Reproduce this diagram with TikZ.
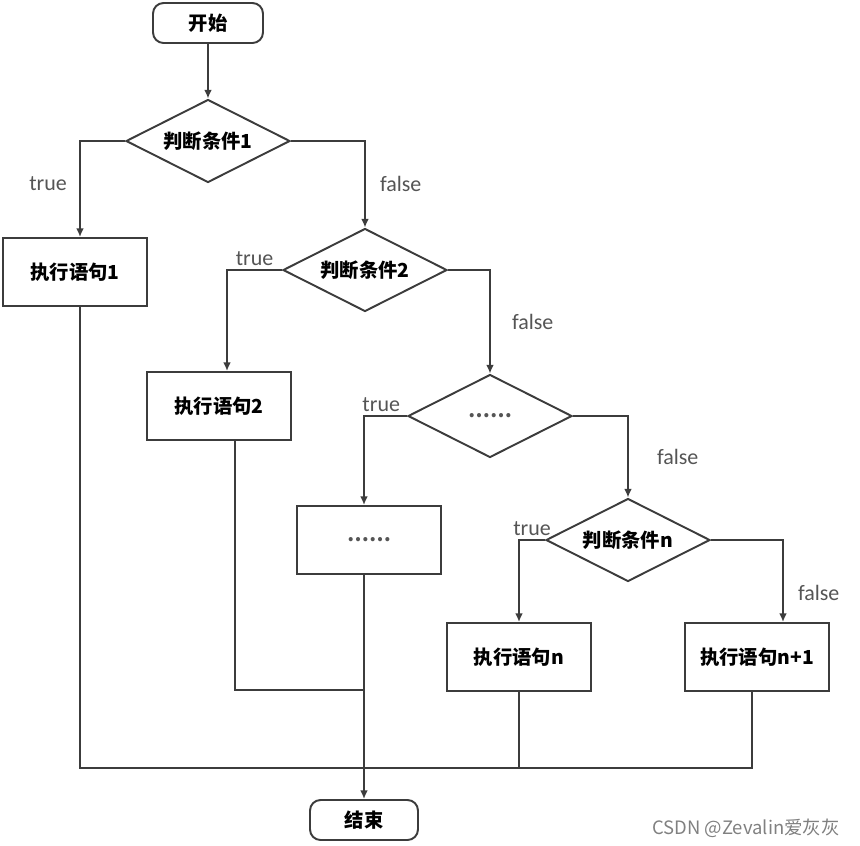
\documentclass[tikz,border=0pt]{standalone}
\usepackage{fontspec}
\usepackage{xcolor}
\usepackage{tikz}
\usetikzlibrary{shapes.geometric,arrows.meta,positioning}
\newfontfamily\cjk{Noto Sans CJK SC}
\newfontfamily\lblfont{Carlito}
\definecolor{linegray}{RGB}{60,60,60}
\definecolor{txtgray}{RGB}{85,85,85}
\tikzset{
  % start / end box
  termbox/.style={rectangle, rounded corners=6pt, align=center,
                  draw=linegray, line width=1.1pt,
                  font=\cjk\fontsize{11}{13}\selectfont\bfseries,
                  minimum width=2.2cm, minimum height=0.8cm, inner sep=2pt},
  % statement box
  actbox/.style={rectangle, align=center,
                 draw=linegray, line width=1.1pt,
                 font=\cjk\fontsize{11}{13}\selectfont\bfseries,
                 minimum width=2.88cm, minimum height=1.36cm, inner sep=2pt},
  % condition diamond
  condbox/.style={diamond, aspect=2, align=center,
                  draw=linegray, line width=1.1pt,
                  font=\cjk\fontsize{11}{13}\selectfont\bfseries,
                  minimum width=3.28cm, minimum height=1.66cm, inner sep=0pt},
  % branch labels
  lbl/.style={font=\lblfont\fontsize{12.5}{14}\selectfont, text=txtgray, inner sep=1pt},
  % connectors
  flow/.style={-{Latex[length=5pt,width=4.5pt]}, draw=linegray, line width=1.1pt},
  mergeline/.style={draw=linegray, line width=1.1pt},
}
\begin{document}
\begin{tikzpicture}[x=0.02cm,y=-0.02cm]
  \useasboundingbox (0,0) rectangle (860,846);

  % -- nodes -------------------------------------------------
  \node[termbox] (start) at (208,23) {开始};
  \node[condbox] (c1) at (208,141) {判断条件1};
  \node[actbox]  (s1) at (75,272) {执行语句1};
  \node[condbox] (c2) at (365,270) {判断条件2};
  \node[actbox]  (s2) at (219,406) {执行语句2};
  \node[condbox] (c3) at (490,416) {\textcolor{txtgray}{……}};
  \node[actbox]  (s3) at (369,540) {\textcolor{txtgray}{……}};
  \node[condbox] (cn) at (628,540) {判断条件n};
  \node[actbox]  (sn) at (519,657) {执行语句n};
  \node[actbox]  (sn1) at (757,657) {执行语句n+1};
  \node[termbox, minimum width=2.16cm] (stop) at (364,820) {结束};

  \coordinate (m2) at (364,690);
  \coordinate (j) at (364,768);

  % -- branches ----------------------------------------------
  \draw[flow] (start) -- (c1);
  \draw[flow] (c1.west) -| node[lbl,pos=0.72,left=6pt] {true}
        ([xshift=0.1cm]s1.north);
  \draw[flow] (c1.east) -| node[lbl,pos=0.75,right=7pt] {false} (c2.north);
  \draw[flow] (c2.west) -| node[lbl,pos=0.25,above=1pt] {true}
        ([xshift=0.16cm]s2.north);
  \draw[flow] (c2.east) -| node[lbl,pos=0.75,right=11pt] {false} (c3.north);
  \draw[flow] (c3.west) -| node[lbl,pos=0.3,above=1pt] {true}
        ([xshift=-0.1cm]s3.north);
  \draw[flow] (c3.east) -| node[lbl,pos=0.75,right=15pt] {false} (cn.north);
  \draw[flow] (cn.west) -| node[lbl,pos=0.25,above=1pt] {true} (sn.north);
  \draw[flow] (cn.east) -| node[lbl,pos=0.82,right=7pt] {false}
        ([xshift=0.52cm]sn1.north);

  % -- merging lines -----------------------------------------
  \draw[mergeline] ([xshift=0.32cm]s2.south) |- (m2);
  \draw[flow] ([xshift=-0.1cm]s3.south) -- (stop.north);
  \draw[mergeline] ([xshift=0.1cm]s1.south) |- (j) -| ([xshift=-0.1cm]sn1.south);
  \draw[mergeline] (sn.south) -- (sn.south |- j);

  % -- watermark ---------------------------------------------
  \node[font=\cjk\fontsize{10.5}{12}\selectfont, text=black!50, anchor=east]
        (mark) at (846,828) {CSDN @Zevalin爱灰灰};

\end{tikzpicture}
\end{document}
